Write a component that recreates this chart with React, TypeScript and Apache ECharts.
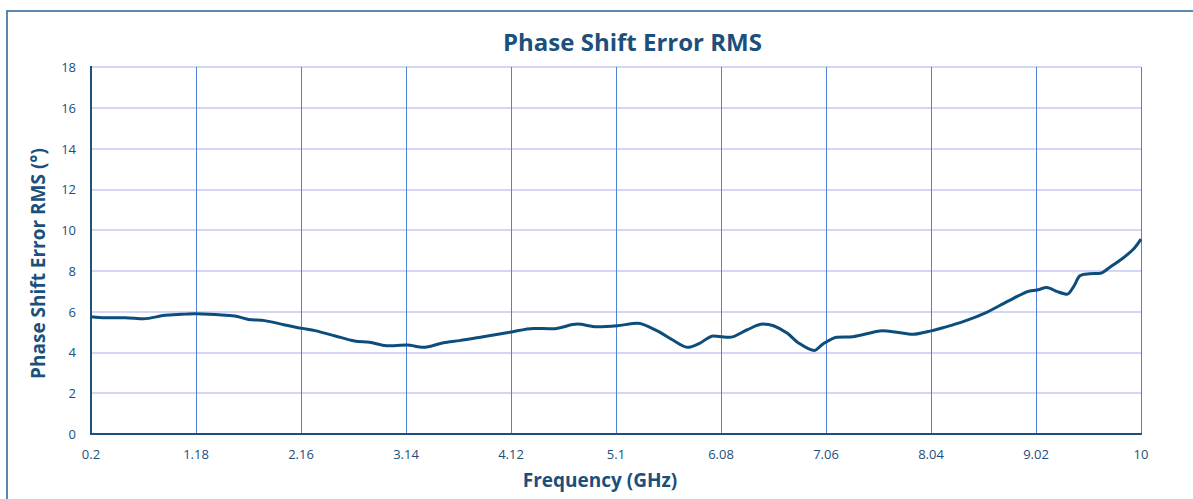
import React, { useEffect, useRef } from "react";
import * as echarts from "echarts";

const frequencies = [
  0.2, 0.33, 0.52, 0.69, 0.89, 1.05, 1.17, 1.39, 1.54, 1.67, 1.82, 2.01, 2.17, 2.29, 2.48, 2.66,
  2.8, 2.96, 3.15, 3.3, 3.49, 3.64, 3.86, 4.11, 4.33, 4.51, 4.74, 4.92, 5.11, 5.3, 5.48, 5.63,
  5.77, 5.88, 6.01, 6.16, 6.32, 6.47, 6.57, 6.7, 6.8, 6.95, 7.03, 7.16, 7.31, 7.5, 7.59, 7.72,
  7.87, 8.05, 8.15, 8.34, 8.56, 8.75, 8.94, 9.03, 9.12, 9.22, 9.31, 9.37, 9.43, 9.52, 9.62, 9.71,
  9.83, 9.93, 10.0,
];
const rmsError = [
  5.75, 5.7, 5.7, 5.65, 5.82, 5.87, 5.9, 5.85, 5.79, 5.62, 5.56, 5.35, 5.18, 5.07, 4.81, 4.56,
  4.5, 4.33, 4.36, 4.25, 4.48, 4.58, 4.77, 4.99, 5.18, 5.16, 5.39, 5.26, 5.31, 5.43, 5.07, 4.61,
  4.25, 4.45, 4.81, 4.74, 5.1, 5.39, 5.31, 4.94, 4.48, 4.09, 4.41, 4.74, 4.77, 4.99, 5.07, 4.99,
  4.89, 5.07, 5.21, 5.51, 5.97, 6.49, 6.98, 7.06, 7.18, 6.98, 6.85, 7.22, 7.76, 7.86, 7.88, 8.18,
  8.62, 9.07, 9.56,
];
const xStart = 0.2;
const xStep = 0.98;
const xSteps = 10;
const yMin = 0;
const yMax = 18;
const yStep = 2;

const TITLE = "Phase Shift Error RMS";
const X_NAME = "Frequency (GHz)";
const Y_NAME = "Phase Shift Error RMS (°)";

const NAVY = "#1b4f7c";
const FONT = "'Open Sans', 'Noto Sans', sans-serif";

export default function App() {
  const ref = useRef<HTMLDivElement>(null);
  useEffect(() => {
    if (!ref.current) return;
    const chart = echarts.init(ref.current, null, { renderer: "svg" });
    const data = frequencies.map((f, i) => [(f - xStart) / xStep, rmsError[i]]);
    const frameAxis = { show: true, lineStyle: { color: NAVY, width: 2 } };
    chart.setOption({
      animation: false,
      backgroundColor: "#ffffff",
      textStyle: { fontFamily: FONT },
      title: {
        text: TITLE,
        left: 498,
        top: 24,
        textStyle: { color: NAVY, fontSize: 24, fontWeight: "bold", fontFamily: FONT },
      },
      graphic: [
        {
          type: "rect",
          shape: { x: 7, y: 11, width: 1250, height: 560 },
          style: { fill: "none", stroke: "#5b86ad", lineWidth: 2 },
          silent: true,
        },
      ],
      grid: { left: 91, right: 52, top: 67, bottom: 65, containLabel: false },
      xAxis: [
        {
          type: "value",
          min: 0,
          max: xSteps,
          interval: 1,
          name: X_NAME,
          nameLocation: "middle",
          nameGap: 36,
          nameTextStyle: {
            color: NAVY,
            fontSize: 19,
            fontWeight: "bold",
            fontFamily: FONT,
            padding: [0, 32, 0, 0],
          },
          axisLine: frameAxis,
          axisTick: { show: false },
          axisLabel: {
            color: NAVY,
            fontSize: 13,
            margin: 13,
            fontFamily: FONT,
            formatter: (v: number) => String(Number((xStart + xStep * v).toFixed(2))),
          },
          splitLine: { show: true, lineStyle: { color: "#4f82d6", width: 1 } },
        },
        {
          type: "value",
          position: "top",
          min: 0,
          max: xSteps,
          interval: 1,
          axisLine: frameAxis,
          axisTick: { show: false },
          axisLabel: { show: false },
          splitLine: { show: false },
        },
      ],
      yAxis: [
        {
          type: "value",
          min: yMin,
          max: yMax,
          interval: yStep,
          name: Y_NAME,
          nameLocation: "middle",
          nameGap: 44,
          nameTextStyle: {
            color: NAVY,
            fontSize: 19,
            fontWeight: "bold",
            fontFamily: FONT,
            padding: [0, 26, 0, 0],
          },
          axisLine: frameAxis,
          axisTick: { show: false },
          axisLabel: { color: NAVY, fontSize: 13, margin: 15, fontFamily: FONT },
          splitLine: { show: true, lineStyle: { color: "#c6c8f6", width: 1.5 } },
        },
        {
          type: "value",
          position: "right",
          min: yMin,
          max: yMax,
          interval: yStep,
          axisLine: frameAxis,
          axisTick: { show: false },
          axisLabel: { show: false },
          splitLine: { show: false },
        },
      ],
      series: [
        {
          type: "line",
          data,
          smooth: 0.3,
          showSymbol: false,
          symbol: "none",
          lineStyle: { color: "#0c4d7b", width: 3 },
          z: 5,
        },
      ],
    });
    return () => chart.dispose();
  }, []);
  return (
    <div
      ref={ref}
      style={{ position: "fixed", left: 0, top: 0, width: 1193, height: 499, background: "#fff" }}
    />
  );
}
